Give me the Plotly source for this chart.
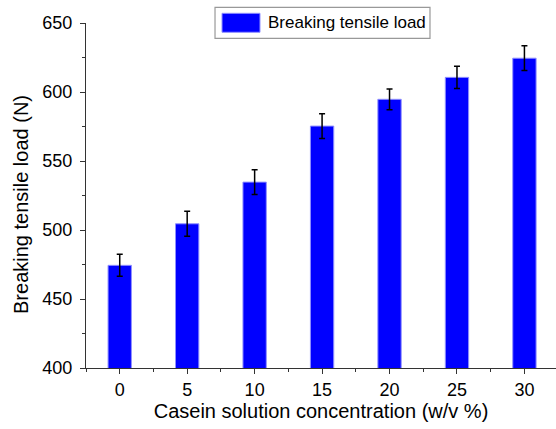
import plotly.graph_objects as go

concentration = [0, 5, 10, 15, 20, 25, 30]
load = [474.4, 504.5, 534.7, 575.3, 594.7, 610.6, 624.5]
load_err = [8, 9, 9, 9, 7.5, 8, 9]

x_ticks = [0, 5, 10, 15, 20, 25, 30]
y_ticks = [400, 450, 500, 550, 600, 650]
series_name = "Breaking tensile load"
x_title = "Casein solution concentration (w/v %)"
y_title = "Breaking tensile load (N)"

font = "Arial, Liberation Sans, sans-serif"
bar_color = "#0000FF"

fig = go.Figure()
fig.add_trace(go.Bar(
    x=concentration, y=load, width=1.73,
    name=series_name,
    marker=dict(color=bar_color, line=dict(color="#9090FF", width=1)),
    error_y=dict(type="data", array=load_err, visible=True,
                 color="black", thickness=1.5, width=3),
    showlegend=False,
))

# custom legend box (wide swatch like the original)
fig.add_shape(type="rect", xref="paper", yref="paper",
              x0=0.2745, x1=0.7319, y0=0.9557, y1=1.0454,
              line=dict(color="#999999", width=1.2), fillcolor="white", layer="above")
fig.add_shape(type="rect", xref="paper", yref="paper",
              x0=0.2894, x1=0.3702, y0=0.9731, y1=1.0281,
              line=dict(color="#9090FF", width=1), fillcolor=bar_color, layer="above")
fig.add_annotation(xref="paper", yref="paper", x=0.3823, y=1.0006,
                   xanchor="left", yanchor="middle", showarrow=False,
                   text=series_name, font=dict(size=17, color="black"))

# y-axis title placed like the original (slightly below the plot centre)
fig.add_annotation(xref="paper", yref="paper", x=0, y=0.4725, xshift=-65,
                   xanchor="center", yanchor="middle", showarrow=False,
                   textangle=-90, text=y_title, font=dict(size=20, color="black"))

fig.update_layout(
    width=556, height=429,
    margin=dict(l=86, r=0, t=23, b=61),
    plot_bgcolor="white", paper_bgcolor="white",
    font=dict(family=font, size=18, color="black"),
    showlegend=False,
    xaxis=dict(
        range=[-2.5, 32.34], tickvals=x_ticks, ticktext=[str(v) for v in x_ticks],
        showline=True, linecolor="#333333", linewidth=1.3,
        ticks="outside", ticklen=5, tickwidth=1.3, tickcolor="#333333",
        minor=dict(dtick=2.5, tick0=2.5, ticks="outside", ticklen=3, tickwidth=1.2, tickcolor="#333333"),
        showgrid=False, zeroline=False, automargin=False,
        title=dict(text=x_title, standoff=4, font=dict(size=20)),
        tickfont=dict(size=18),
    ),
    yaxis=dict(
        range=[400, 650], tickvals=y_ticks,
        showline=True, linecolor="#333333", linewidth=1.3,
        ticks="outside", ticklen=5, tickwidth=1.3, tickcolor="#333333",
        ticklabelstandoff=4,
        minor=dict(dtick=25, ticks="outside", ticklen=3, tickwidth=1.2, tickcolor="#333333"),
        showgrid=False, zeroline=False, automargin=False,
        tickfont=dict(size=18),
    ),
)

fig.write_html(
    "out.html",
    config={"displayModeBar": False},
    post_script="document.body.style.margin='0';document.body.style.overflow='hidden';",
)
